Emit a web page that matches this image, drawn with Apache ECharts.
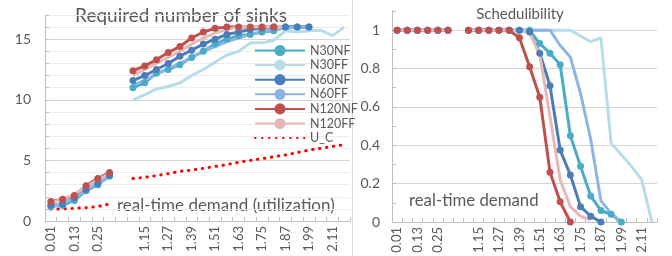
<!DOCTYPE html>
<html>
<head>
<meta charset="utf-8">
<script src="https://cdn.jsdelivr.net/npm/echarts@6/dist/echarts.min.js"></script>
<style>html,body{margin:0;padding:0;background:#fff}#c{width:672px;height:256px}</style>
</head>
<body>
<div id="c"></div>
<script>
const categories = ['0.01','0.07','0.13','0.19','0.25','0.31','','1.09','1.15','1.21','1.27','1.33','1.39','1.45','1.51','1.57','1.63','1.69','1.75','1.81','1.87','1.93','1.99','2.05','2.11','2.17'];

const seriesNames = ['N30NF','N30FF','N60NF','N60FF','N120NF','N120FF'];

// Required number of sinks
const sinksN30NF  = [1.2,1.3,1.7,2.5,3.0,3.7,null,11.0,11.4,12.2,12.5,12.9,13.5,14.0,14.6,15.0,15.3,15.4,15.6,15.7,16.0,16.0,16.0,null,null,null];
const sinksN30FF  = [1.2,1.4,1.9,2.6,3.1,3.8,null,10.0,10.4,10.9,11.1,11.4,12.0,12.5,13.1,13.7,14.0,14.7,14.7,14.9,15.7,15.6,15.7,15.75,15.3,16.0];
const sinksN60NF  = [1.3,1.4,1.9,2.6,3.1,3.8,null,11.6,12.0,12.5,13.0,13.6,14.1,14.6,15.0,15.4,15.6,15.8,15.9,16.0,16.0,16.0,16.0,null,null,null];
const sinksN60FF  = [1.3,1.4,1.9,2.6,3.1,3.7,null,11.2,11.6,12.1,12.6,13.0,13.5,14.0,14.4,14.8,15.1,15.4,15.6,15.8,15.9,16.0,16.0,null,null,null];
const sinksN120NF = [1.6,1.8,2.1,2.9,3.5,4.0,null,12.4,12.8,13.3,13.9,14.4,15.1,15.6,15.9,16.0,16.0,16.0,16.0,16.0,null,null,null,null,null,null];
const sinksN120FF = [1.5,1.8,2.2,2.8,3.4,3.9,null,12.0,12.5,13.0,13.5,14.0,14.6,15.1,15.5,15.8,16.0,16.0,16.0,16.0,16.0,null,null,null,null,null];
const sinksUC     = [1.0,1.0,1.05,1.1,1.2,1.4,null,3.5,3.6,3.75,3.9,4.1,4.2,4.35,4.5,4.65,4.85,5.0,5.15,5.3,5.45,5.65,5.85,6.0,6.15,6.3];

// Schedulibility
const schedN30NF  = [1,1,1,1,1,1,null,1,1,1,1,1,1,1,0.93,0.88,0.82,0.45,0.29,0.135,0.06,0.04,0.0,null,null,null];
const schedN30FF  = [1,1,1,1,1,1,null,1,1,1,1,1,1,1,1,1,1,1,0.97,0.94,0.96,0.41,0.35,0.29,0.22,0.0];
const schedN60NF  = [1,1,1,1,1,1,null,1,1,1,1,1,1,0.99,0.88,0.71,0.375,0.245,0.08,0.03,0.0,null,null,null,null,null];
const schedN60FF  = [1,1,1,1,1,1,null,1,1,1,1,1,1,1,1,1,0.92,0.86,0.67,0.43,0.11,0.045,0.0,null,null,null];
const schedN120NF = [1,1,1,1,1,1,null,1,1,1,1,1,0.96,0.81,0.65,0.26,0.105,0.0,null,null,null,null,null,null,null,null];
const schedN120FF = [1,1,1,1,1,1,null,1,1,1,1,1,1,0.99,0.87,0.55,0.22,0.08,0.03,0.01,null,null,null,null,null,null];

const sinksData = [sinksN30NF, sinksN30FF, sinksN60NF, sinksN60FF, sinksN120NF, sinksN120FF];
const schedData = [schedN30NF, schedN30FF, schedN60NF, schedN60FF, schedN120NF, schedN120FF];
const colors = ['#4bacc6','#b7dde8','#4a7ebb','#8eb4e3','#c0504d','#e6b9b8'];
const markers = [true,false,true,false,true,false];

const FONT = 'Lato, "Noto Sans", sans-serif';
const TXT = '#595959';

function mkSeries(data, ax) {
  return seriesNames.map((n, i) => ({
    type: 'line', name: n, xAxisIndex: ax, yAxisIndex: ax,
    data: data[i],
    symbol: markers[i] ? 'circle' : 'none',
    symbolSize: 7,
    showSymbol: markers[i],
    showAllSymbol: true,
    connectNulls: false,
    lineStyle: { width: 3, color: colors[i] },
    itemStyle: { color: colors[i] },
    emphasis: { disabled: true }
  }));
}

const series = mkSeries(sinksData, 0).concat(mkSeries(schedData, 1));
series.push({
  type: 'line', name: 'U_C', xAxisIndex: 0, yAxisIndex: 0, data: sinksUC,
  symbol: 'none', showSymbol: false,
  lineStyle: { width: 3, color: '#ff0000', type: [0.5, 6.5], cap: 'round' },
  itemStyle: { color: '#ff0000' },
  emphasis: { disabled: true }
});

function xAxis(gi) {
  return {
    type: 'category', gridIndex: gi, data: categories, boundaryGap: true,
    axisLine: { lineStyle: { color: '#bfbfbf', width: 1 } },
    axisTick: { show: true, inside: true, length: 4, interval: 0, lineStyle: { color: '#bfbfbf' } },
    axisLabel: { interval: 1, rotate: 90, margin: 5, color: TXT, fontFamily: FONT, fontSize: 13 },
    splitLine: { show: false }
  };
}

const chart = echarts.init(document.getElementById('c'), null, { renderer: 'canvas' });
chart.setOption({
  animation: false,
  backgroundColor: '#fff',
  grid: [
    { left: 45, right: 322, top: 15, bottom: 35 },
    { left: 392, right: 15, top: 11, bottom: 34 }
  ],
  xAxis: [xAxis(0), xAxis(1)],
  yAxis: [
    {
      type: 'value', gridIndex: 0, min: 0, max: 17, interval: 1,
      axisLine: { show: true, lineStyle: { color: '#bfbfbf' } },
      axisTick: { show: true, inside: true, length: 4, lineStyle: { color: '#bfbfbf' } },
      axisLabel: { color: TXT, fontFamily: FONT, fontSize: 14, margin: 14,
        formatter: v => (v % 5 === 0 ? String(v) : '') },
      splitLine: { show: true, lineStyle: { color: ['#d4d4d4','#ececec','#ececec','#ececec','#ececec'], width: 1 } }
    },
    {
      type: 'value', gridIndex: 1, min: 0, max: 1.1, interval: 0.1,
      axisLine: { show: true, lineStyle: { color: '#bfbfbf' } },
      axisTick: { show: true, inside: true, length: 4, lineStyle: { color: '#bfbfbf' } },
      axisLabel: { color: TXT, fontFamily: FONT, fontSize: 14, margin: 12,
        formatter: v => (Math.round(v * 10) % 2 === 0 ? String(+v.toFixed(1)) : '') },
      splitLine: { show: true, lineStyle: { color: ['#d4d4d4','rgba(0,0,0,0)'], width: 1 } }
    }
  ],
  legend: {
    orient: 'vertical', left: 249, top: 39,
    itemWidth: 50, itemHeight: 14, itemGap: 1.6,
    data: ['N30NF','N30FF','N60NF','N60FF','N120NF','N120FF',
      { name: 'U_C', itemStyle: { opacity: 0 } }],
    textStyle: { color: TXT, fontFamily: FONT, fontSize: 12.5 },
    selectedMode: false
  },
  graphic: [
    { type: 'line', shape: { x1: 352.5, y1: 0, x2: 352.5, y2: 256 }, style: { stroke: '#d9d9d9', lineWidth: 1 } },
    { type: 'text', x: 181, y: 16, style: { text: 'Required number of sinks', font: '19px ' + FONT, fill: TXT, align: 'center', verticalAlign: 'middle' } },
    { type: 'text', x: 520, y: 14, style: { text: 'Schedulibility', font: '15px ' + FONT, fill: TXT, align: 'center', verticalAlign: 'middle' } },
    { type: 'text', x: 117, y: 206, style: { text: 'real-time demand (utilization)', font: '17px ' + FONT, fill: TXT, align: 'left', verticalAlign: 'middle' } },
    { type: 'text', x: 409, y: 201, style: { text: 'real-time demand', font: '16.8px ' + FONT, fill: TXT, align: 'left', verticalAlign: 'middle' } }
  ],
  series: series
});
</script>
</body>
</html>
